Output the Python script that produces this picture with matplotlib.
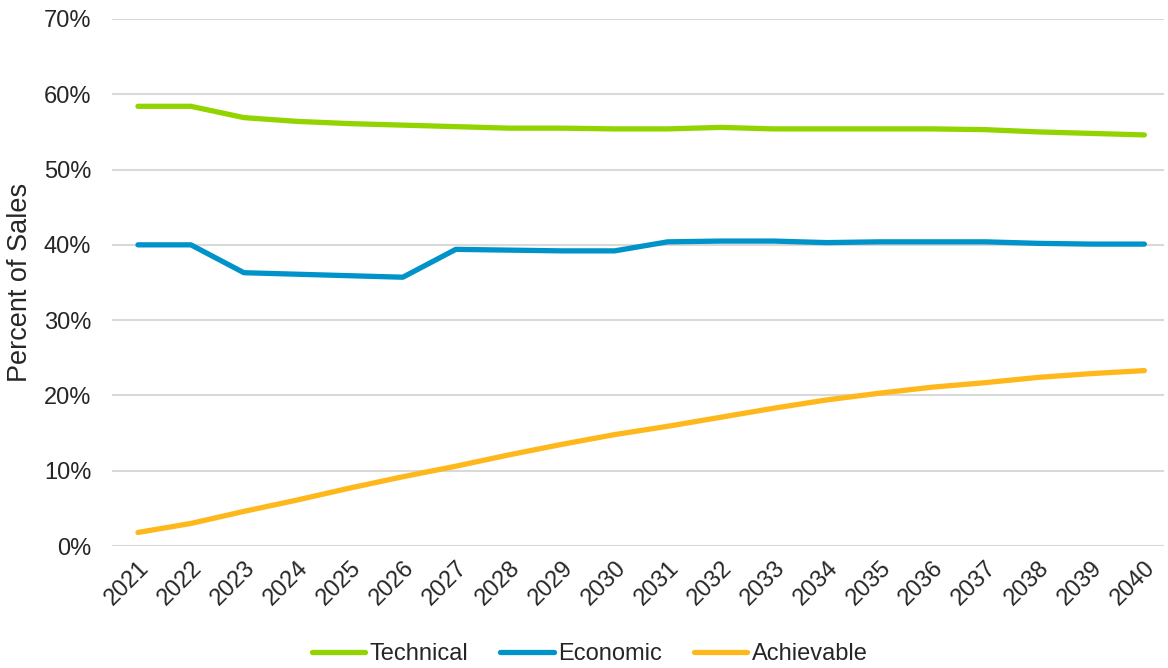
import matplotlib
matplotlib.use("Agg")
import matplotlib.pyplot as plt
from matplotlib.ticker import FuncFormatter

plt.rcParams['font.family'] = ['Liberation Sans', 'DejaVu Sans']

years = list(range(2021, 2041))
technical = [58.4, 58.4, 56.9, 56.4, 56.1, 55.9, 55.7, 55.5, 55.5, 55.4,
             55.4, 55.6, 55.4, 55.4, 55.4, 55.4, 55.3, 55.0, 54.8, 54.6]
economic = [40.0, 40.0, 36.3, 36.1, 35.9, 35.7, 39.4, 39.3, 39.2, 39.2,
            40.4, 40.5, 40.5, 40.3, 40.4, 40.4, 40.4, 40.2, 40.1, 40.1]
achievable = [1.8, 3.0, 4.6, 6.1, 7.7, 9.2, 10.6, 12.1, 13.5, 14.8,
              15.9, 17.1, 18.3, 19.4, 20.3, 21.1, 21.7, 22.4, 22.9, 23.3]
series_names = ["Technical", "Economic", "Achievable"]
colors = ["#92D400", "#0093C9", "#FFB81C"]
y_ticks = [0, 10, 20, 30, 40, 50, 60, 70]

text_color = '#262626'
fs = 17

fig = plt.figure(figsize=(11.68, 6.68), dpi=100)
ax = fig.add_axes([0.0959, 0.1826, 0.9011, 0.789])

for name, vals, c in zip(series_names, [technical, economic, achievable], colors):
    ax.plot(years, vals, color=c, lw=3.8, label=name,
            solid_capstyle='round', solid_joinstyle='round', zorder=3)

ax.set_ylim(0, 70)
ax.set_xlim(2020.51, 2040.38)
ax.set_yticks(y_ticks)
ax.yaxis.set_major_formatter(FuncFormatter(lambda v, p: f"{int(v)}%"))
ax.set_xticks(years)
ax.set_xticklabels([str(y) for y in years], rotation=45, ha='right',
                   rotation_mode='anchor', fontsize=fs, color=text_color)
ax.tick_params(axis='y', labelsize=fs, labelcolor=text_color, length=0, pad=15)
ax.tick_params(axis='x', length=0, pad=8)
ax.grid(axis='y', color='#D9D9D9', lw=1.5, zorder=0)
for s in ax.spines.values():
    s.set_visible(False)
ax.set_ylabel("Percent of Sales", fontsize=19.5, color=text_color)
ax.yaxis.set_label_coords(-0.075, 0.5)

fig.legend(loc='center', bbox_to_anchor=(0.505, 0.021), ncol=3, frameon=False,
           fontsize=fs, handlelength=2.25, handletextpad=0.2, columnspacing=1.35,
           labelcolor=text_color)

fig.savefig("out.png", dpi=100, facecolor='white')
